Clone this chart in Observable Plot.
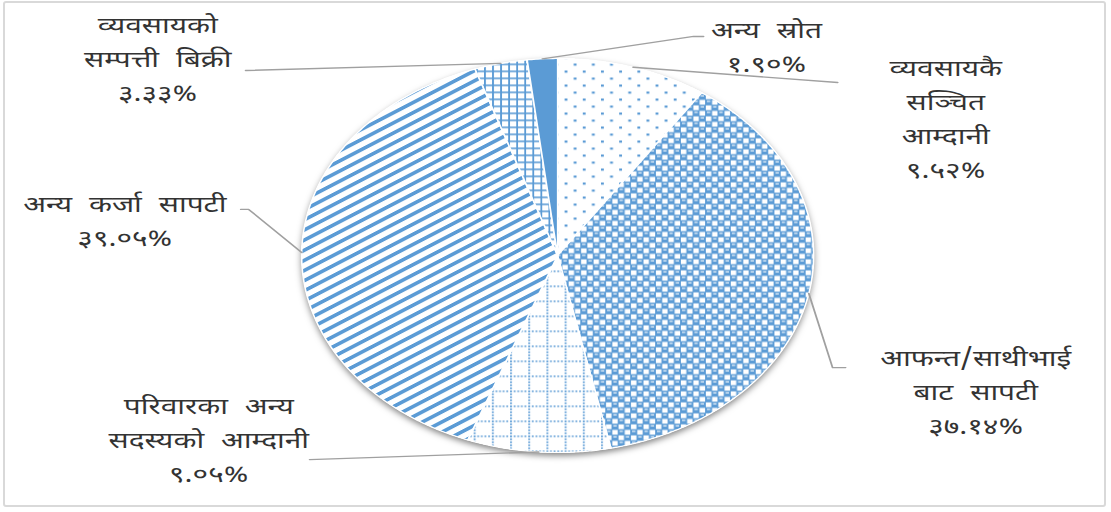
<!DOCTYPE html>
<html><head><meta charset="utf-8">
<script src="https://cdn.jsdelivr.net/npm/d3@7"></script>
<script src="https://cdn.jsdelivr.net/npm/@observablehq/plot@0.6"></script>
<style>
html,body{margin:0;padding:0;background:#fff;}
#wrap{position:relative;width:1111px;height:512px;overflow:hidden;background:#fff;}
#frame{position:absolute;left:3px;top:1px;width:1099px;height:502px;border:2px solid #d9d9d9;border-radius:3px;pointer-events:none;}
svg text{word-spacing:7px;}
</style></head><body><div id="wrap"><div id="frame"></div></div>
<script>
// ---- data ----
const categories = [
  "व्यवसायकै\nसञ्चित\nआम्दानी",
  "आफन्त/साथीभाई\nबाट सापटी",
  "परिवारका अन्य\nसदस्यको आम्दानी",
  "अन्य कर्जा सापटी",
  "व्यवसायको\nसम्पत्ती बिक्री",
  "अन्य स्रोत"
];
const shares = [9.52, 37.14, 9.05, 39.05, 3.33, 1.90];

// ---- styling / layout (not data) ----
const BLUE = "#5B9BD5";
const sliceFills = ["url(#p-dots)", "url(#p-sphere)", "url(#p-dotgrid)", "url(#p-stripes)", "url(#p-smallgrid)", BLUE];
// label block centres, in pie-radius units
const labelPos = [[1.516,0.706],[1.633,-0.680],[-1.363,-0.924],[-1.691,0.188],[-1.5625,1.010],[0.816,1.071]];
// leader-line bends, in pie-radius units (start point is the slice's mid-angle on the rim)
const leaderBends = [
  [[1.094,0.878]],
  [[1.074,-0.569],[1.125,-0.569]],
  [[-0.969,-1.036]],
  [[-1.207,0.234],[-1.238,0.234]],
  [[-1.219,0.939]],
  [[0.531,1.112],[0.570,1.112]]
];

const DEV = "०१२३४५६७८९";
const toDev = s => s.replace(/[0-9]/g, d => DEV[+d]);
const pct = v => toDev(v.toFixed(2)) + "%";

const arcs = d3.pie().sort(null).value(d => d)(shares);
const slices = arcs.map(a => {
  const pts = [{x: 0, y: 0}];
  const n = Math.max(2, Math.ceil((a.endAngle - a.startAngle) / (Math.PI / 360)));
  for (let k = 0; k <= n; k++) {
    const t = a.startAngle + (a.endAngle - a.startAngle) * k / n;
    pts.push({x: Math.sin(t), y: Math.cos(t)});
  }
  pts.push({x: 0, y: 0});
  return pts;
});
const disk = d3.range(0, 721).map(k => ({x: Math.sin(k * Math.PI / 360), y: Math.cos(k * Math.PI / 360)}));

const leaders = [];
arcs.forEach((a, i) => {
  const m = (a.startAngle + a.endAngle) / 2;
  leaders.push({id: i, x: Math.sin(m), y: Math.cos(m)});
  leaderBends[i].forEach(([x, y]) => leaders.push({id: i, x, y}));
});
const labels = categories.map((c, i) => ({x: labelPos[i][0], y: labelPos[i][1], text: c + "\n" + pct(shares[i])}));

const S = 1111 / 855;            // horizontal stretch of the whole picture
const cx = 557 / S, R = 197;
const svg = Plot.plot({
  width: 855, height: 512,
  marginLeft: cx - R, marginRight: 855 - (cx + R), marginTop: 58, marginBottom: 60,
  x: {domain: [-1, 1], axis: null},
  y: {domain: [-1, 1], axis: null},
  marks: [
    Plot.line(disk, {x: "x", y: "y", fill: "white", stroke: "none"}),
    ...slices.map((pts, i) => Plot.line(pts, {x: "x", y: "y", fill: sliceFills[i], stroke: "white", strokeWidth: 1.2, strokeLinejoin: "round"})),
    Plot.line(leaders, {x: "x", y: "y", z: "id", stroke: "#a0a0a0", strokeWidth: 1.4}),
    Plot.text(labels, {x: "x", y: "y", text: "text", fontSize: 23, lineHeight: 1.48, fill: "#333333",
      fontFamily: "'Noto Sans Devanagari','Lohit Devanagari','FreeSans','Noto Sans',sans-serif",
      textAnchor: "middle", lineAnchor: "middle"})
  ]
});

const ns = "http://www.w3.org/2000/svg";
const defs = document.createElementNS(ns, "defs");
defs.innerHTML = `
<filter id="shadow" x="-20%" y="-20%" width="140%" height="140%">
  <feDropShadow dx="0" dy="3" stdDeviation="3" flood-color="#000" flood-opacity="0.5"/>
</filter>
<pattern id="p-dots" patternUnits="userSpaceOnUse" width="14" height="14">
  <rect width="14" height="14" fill="white"/>
  <rect x="0" y="0" width="2.2" height="2.2" fill="${BLUE}"/>
  <rect x="7" y="7" width="2.2" height="2.2" fill="${BLUE}"/>
</pattern>
<pattern id="p-sphere" patternUnits="userSpaceOnUse" width="9.6" height="11">
  <rect width="9.6" height="11" fill="${BLUE}"/>
  <rect x="0.3" y="0.4" width="4.2" height="4.8" fill="white"/>
  <rect x="5.1" y="5.9" width="4.2" height="4.8" fill="white"/>
  <rect x="5.9" y="1.3" width="2.6" height="1.1" fill="white"/>
  <rect x="1.1" y="6.8" width="2.6" height="1.1" fill="white"/>
</pattern>
<pattern id="p-dotgrid" patternUnits="userSpaceOnUse" width="14" height="15">
  <rect width="14" height="15" fill="white"/>
  <line x1="0" y1="0.75" x2="14" y2="0.75" stroke="${BLUE}" stroke-width="1.6" stroke-dasharray="1.4,1.4"/>
  <line x1="0.75" y1="0" x2="0.75" y2="15" stroke="${BLUE}" stroke-width="1.6" stroke-dasharray="1.5,1.5"/>
</pattern>
<pattern id="p-stripes" patternUnits="userSpaceOnUse" width="10" height="8.4" patternTransform="rotate(-34)">
  <rect width="10" height="8.4" fill="white"/>
  <rect y="0" width="10" height="3.4" fill="${BLUE}"/>
</pattern>
<pattern id="p-smallgrid" patternUnits="userSpaceOnUse" width="6.2" height="7">
  <rect width="6.2" height="7" fill="white"/>
  <rect x="0" y="0" width="6.2" height="1.6" fill="${BLUE}"/>
  <rect x="0" y="0" width="1.4" height="7" fill="${BLUE}"/>
</pattern>`;
svg.insertBefore(defs, svg.firstChild);
const diskG = svg.querySelector('g[aria-label="line"]');
if (diskG) diskG.setAttribute("filter", "url(#shadow)");
svg.setAttribute("width", 1111);
svg.setAttribute("height", 512);
svg.setAttribute("preserveAspectRatio", "none");
svg.setAttribute("style", "display:block;background:transparent;width:1111px;height:512px;max-width:none;");
document.getElementById("wrap").insertBefore(svg, document.getElementById("frame"));
</script>
</body></html>
